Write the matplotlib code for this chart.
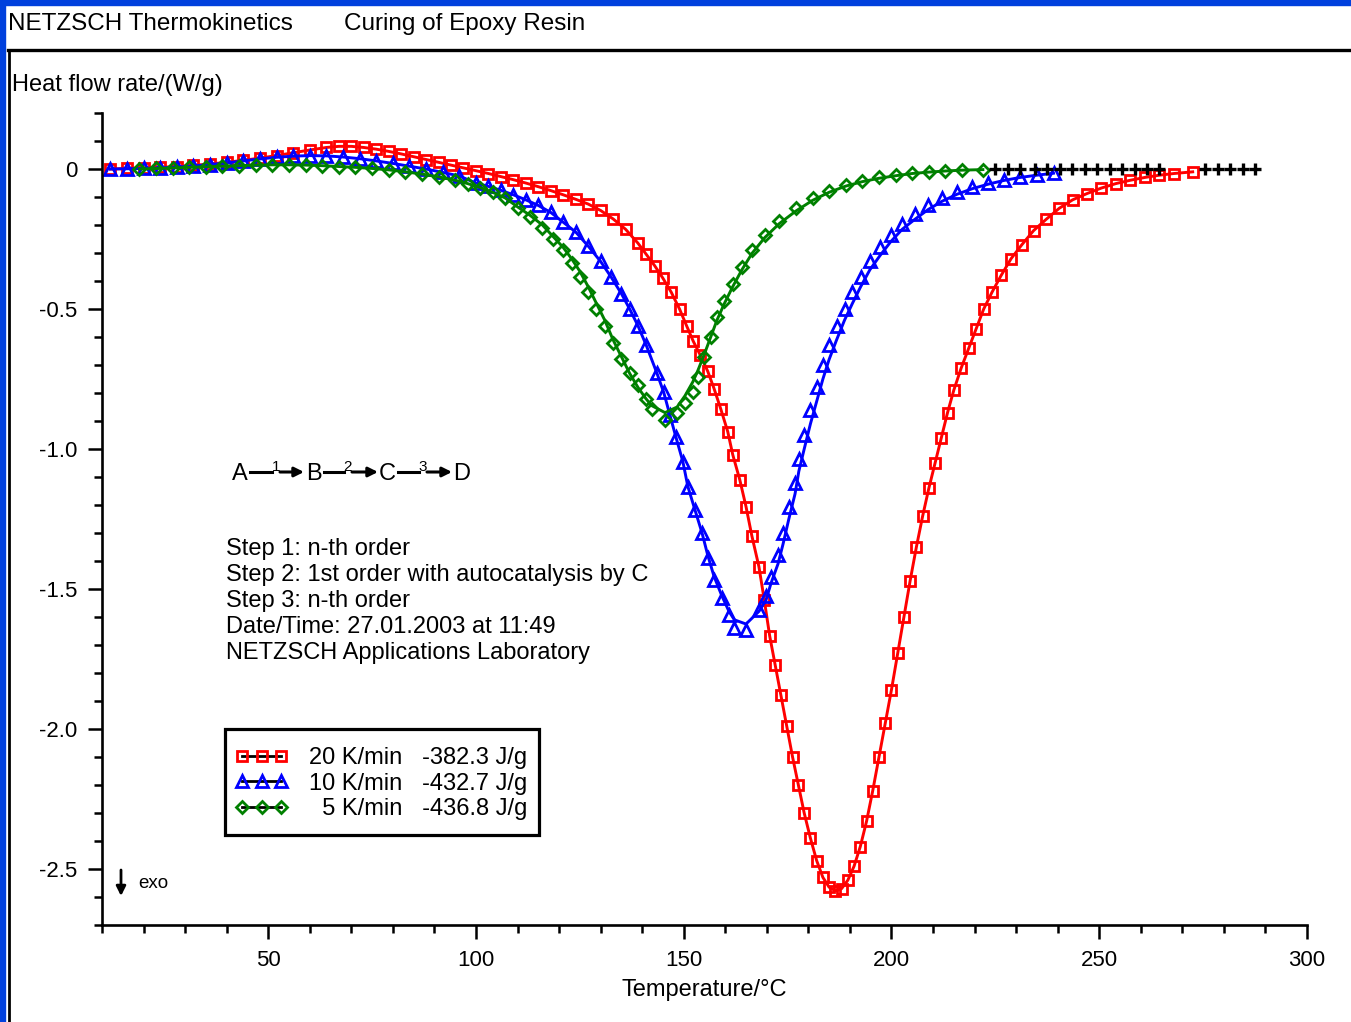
import matplotlib.pyplot as plt
from matplotlib.lines import Line2D
from matplotlib.patches import Rectangle
from matplotlib.ticker import MultipleLocator

plt.rcParams['font.family'] = ['Liberation Sans', 'DejaVu Sans']

# 20 K/min - measured points (temperature in degC, heat flow in W/g)
red_T = [12, 16, 20, 24, 28, 32, 36, 40, 44, 48, 52, 56, 60, 64, 67, 70, 73, 76, 79, 82,
         85, 88, 91, 94, 97, 100, 103, 106, 109, 112, 115, 118, 121, 124, 127, 130, 133,
         136, 139, 141, 143, 145, 147, 149, 150.7, 152.3, 154, 155.8, 157.3, 158.9, 160.6,
         161.8, 163.5, 165, 166.4, 168.1, 169.4, 170.7, 172, 173.4, 174.8, 176.2, 177.6,
         179, 180.5, 182, 183.5, 185, 186.5, 188, 189.5, 191, 192.5, 194, 195.5, 197,
         198.5, 200, 201.5, 203, 204.5, 206, 207.5, 209, 210.5, 212, 213.5, 215, 216.8,
         218.6, 220.4, 222.2, 224.2, 226.4, 228.8, 231.4, 234.2, 237.2, 240.4, 243.6, 247,
         250.5, 254, 257.5, 261, 264.5, 268, 272.5]
red_hf = [0.0, 0.002, 0.004, 0.006, 0.009, 0.013, 0.018, 0.024, 0.031, 0.039, 0.048, 0.058,
          0.068, 0.077, 0.081, 0.081, 0.077, 0.071, 0.063, 0.054, 0.044, 0.034, 0.024,
          0.014, 0.004, -0.006, -0.016, -0.027, -0.038, -0.05, -0.063, -0.077, -0.092,
          -0.108, -0.125, -0.148, -0.178, -0.215, -0.265, -0.305, -0.345, -0.39, -0.44,
          -0.5, -0.56, -0.615, -0.665, -0.723, -0.784, -0.856, -0.938, -1.02, -1.11,
          -1.206, -1.31, -1.42, -1.54, -1.668, -1.77, -1.88, -1.99, -2.1, -2.2, -2.3,
          -2.39, -2.47, -2.53, -2.565, -2.578, -2.57, -2.54, -2.49, -2.42, -2.33, -2.22,
          -2.1, -1.98, -1.86, -1.73, -1.6, -1.47, -1.35, -1.24, -1.14, -1.05, -0.96,
          -0.87, -0.79, -0.71, -0.64, -0.57, -0.5, -0.44, -0.38, -0.32, -0.27, -0.22,
          -0.18, -0.14, -0.11, -0.088, -0.068, -0.052, -0.04, -0.03, -0.022, -0.016,
          -0.01]

# 10 K/min
blue_T = [12, 16, 20, 24, 28, 32, 36, 40, 44, 48, 52, 56, 60, 64, 68, 72, 76, 80, 84, 88,
          92, 96, 100, 103, 106, 109, 112, 115, 118, 121, 124, 127, 130, 132.5, 135, 137,
          139, 141, 143.5, 145.2, 146.7, 148.1, 149.8, 151.0, 152.7, 154.4, 155.8, 157.3,
          159.2, 160.9, 162.2, 165.0, 168.1, 169.8, 171.0, 172.7, 173.9, 175.3, 176.8,
          177.7, 179, 180.5, 182, 183.5, 185, 186.8, 188.7, 190.6, 192.6, 194.8, 197.2,
          199.8, 202.6, 205.6, 208.8, 212.2, 215.8, 219.5, 223.3, 227, 231, 235, 239]
blue_hf = [0.0, 0.001, 0.002, 0.004, 0.007, 0.011, 0.016, 0.022, 0.029, 0.036, 0.042,
           0.046, 0.048, 0.047, 0.043, 0.037, 0.029, 0.02, 0.01, 0.0, -0.012, -0.025,
           -0.05, -0.062, -0.076, -0.092, -0.11, -0.13, -0.155, -0.19, -0.225, -0.275,
           -0.33, -0.385, -0.445, -0.5, -0.56, -0.63, -0.727, -0.798, -0.88, -0.956,
           -1.045, -1.134, -1.217, -1.299, -1.389, -1.468, -1.532, -1.593, -1.64, -1.645,
           -1.575, -1.525, -1.457, -1.378, -1.299, -1.206, -1.12, -1.034, -0.95, -0.86,
           -0.78, -0.7, -0.63, -0.56, -0.5, -0.44, -0.385, -0.33, -0.28, -0.235, -0.195,
           -0.16, -0.13, -0.105, -0.083, -0.065, -0.05, -0.038, -0.028, -0.02, -0.014]
blue_fit = [0.0, 0.001, 0.002, 0.004, 0.007, 0.011, 0.016, 0.022, 0.029, 0.036, 0.042,
            0.046, 0.048, 0.047, 0.043, 0.037, 0.029, 0.02, 0.01, 0.0, -0.012, -0.025,
            -0.05, -0.062, -0.076, -0.092, -0.11, -0.13, -0.155, -0.19, -0.225, -0.275,
            -0.33, -0.385, -0.445, -0.5, -0.56, -0.63, -0.727, -0.798, -0.88, -0.956,
            -1.045, -1.134, -1.217, -1.299, -1.38, -1.455, -1.525, -1.58, -1.61, -1.625,
            -1.58, -1.54, -1.48, -1.41, -1.34, -1.25, -1.16, -1.08, -1.0, -0.91, -0.83,
            -0.75, -0.68, -0.61, -0.54, -0.48, -0.42, -0.36, -0.31, -0.26, -0.215, -0.18,
            -0.145, -0.115, -0.09, -0.07, -0.054, -0.041, -0.03, -0.022, -0.015]

# 5 K/min
green_T = [19, 23, 27, 31, 35, 39, 43, 47, 51, 55, 59, 63, 67, 71, 75, 79, 83, 87, 91, 95,
           98, 101, 104, 107, 110, 113, 116, 118.5, 121, 123, 125, 127, 129, 131, 133, 135,
           137, 139, 140.9, 142.3, 145.5, 148.4, 150.3, 152.2, 153.4, 155, 156.5, 158,
           159.8, 161.8, 164, 166.5, 169.5, 173, 177, 181, 185, 189, 193, 197, 201, 205,
           209, 213, 217, 222]
green_hf = [0.0, 0.002, 0.004, 0.006, 0.008, 0.01, 0.012, 0.014, 0.015, 0.015, 0.014,
            0.012, 0.009, 0.006, 0.002, -0.003, -0.01, -0.018, -0.028, -0.04, -0.052,
            -0.066, -0.083, -0.103, -0.14, -0.17, -0.21, -0.25, -0.29, -0.335, -0.385,
            -0.44, -0.5, -0.56, -0.62, -0.68, -0.73, -0.77, -0.823, -0.856, -0.895, -0.87,
            -0.834, -0.798, -0.741, -0.67, -0.6, -0.53, -0.47, -0.41, -0.35, -0.29, -0.235,
            -0.185, -0.14, -0.105, -0.078, -0.057, -0.042, -0.03, -0.022, -0.015, -0.01,
            -0.006, -0.004, -0.002]
green_fit = [0.0, 0.002, 0.004, 0.006, 0.008, 0.01, 0.012, 0.014, 0.015, 0.015, 0.014,
             0.012, 0.009, 0.006, 0.002, -0.003, -0.01, -0.018, -0.028, -0.04, -0.052,
             -0.066, -0.083, -0.103, -0.135, -0.165, -0.2, -0.24, -0.28, -0.32, -0.365,
             -0.42, -0.48, -0.54, -0.61, -0.67, -0.73, -0.78, -0.82, -0.845, -0.87, -0.85,
             -0.81, -0.76, -0.72, -0.66, -0.6, -0.54, -0.48, -0.42, -0.36, -0.3, -0.245,
             -0.195, -0.15, -0.112, -0.083, -0.061, -0.045, -0.033, -0.024, -0.016, -0.011,
             -0.007, -0.004, -0.002]

# baseline points after the end of each run
tail_T = [225, 228, 231, 234.5, 237.5, 240.5, 243.5, 246.5, 249.5, 252.5, 255.5, 258.5,
          261.5, 264.5, 275.5, 278.5, 281.5, 284.5, 287.5]
tail_hf = [0.0] * len(tail_T)

rates = ['20 K/min', '10 K/min', '  5 K/min']
enthalpies = ['-382.3 J/g', '-432.7 J/g', '-436.8 J/g']

W, H = 1351, 1022
fig = plt.figure(figsize=(W / 100, H / 100), dpi=100)
ax = fig.add_axes([0.0755, 0.0949, 0.8919, 0.7945])


def fx(px):
    return px / W


def fy(py):
    return 1 - py / H


# window decoration
fig.patches.append(Rectangle((0, fy(5)), 1, 5 / H, transform=fig.transFigure,
                             color='#0040dd', zorder=0))
fig.patches.append(Rectangle((0, 0), fx(5), 1, transform=fig.transFigure,
                             color='#0040dd', zorder=0))
fig.add_artist(Line2D([fx(8), 1], [fy(50), fy(50)], transform=fig.transFigure,
                      color='black', lw=2.4))
fig.add_artist(Line2D([fx(9), fx(9)], [0, fy(50)], transform=fig.transFigure,
                      color='black', lw=2.0))

ms = 7
mew = 2.0
lw = 2.1
ax.plot(red_T, red_hf, ls='none', marker='s', ms=ms, mfc='none', mec='red', mew=mew)
ax.plot(red_T, red_hf, color='red', lw=lw)
ax.plot(blue_T, blue_hf, ls='none', marker='^', ms=ms + 1, mfc='none', mec='blue', mew=mew)
ax.plot(blue_T, blue_fit, color='blue', lw=lw)
ax.plot(green_T, green_hf, ls='none', marker='D', ms=ms - 0.5, mfc='none', mec='green', mew=mew)
ax.plot(green_T, green_fit, color='green', lw=lw)
ax.plot(tail_T, tail_hf, ls='none', marker='+', ms=8, color='black', mew=2.4)

ax.set_xlim(10, 300)
ax.set_ylim(-2.7, 0.2)
ax.xaxis.set_minor_locator(MultipleLocator(10))
ax.yaxis.set_minor_locator(MultipleLocator(0.1))
ax.set_yticks([0, -0.5, -1.0, -1.5, -2.0, -2.5])
ax.set_yticklabels(['0', '-0.5', '-1.0', '-1.5', '-2.0', '-2.5'])
ax.set_xticks([50, 100, 150, 200, 250, 300])
ax.tick_params(which='major', length=10, width=1.8, labelsize=16, pad=8, direction='out')
ax.tick_params(which='minor', length=5.5, width=1.8, direction='out')
for s in ['top', 'right']:
    ax.spines[s].set_visible(False)
for s in ['left', 'bottom']:
    ax.spines[s].set_linewidth(1.9)

fs = 17
fig.text(fx(8), fy(24), 'NETZSCH Thermokinetics', fontsize=17.5, va='center', ha='left')
fig.text(fx(344), fy(24), 'Curing of Epoxy Resin', fontsize=17.5, va='center', ha='left')
fig.text(fx(12), fy(85), 'Heat flow rate/(W/g)', fontsize=fs, va='center', ha='left')
fig.text(fx(704), fy(990), 'Temperature/°C', fontsize=fs, va='center', ha='center')

# reaction scheme A -1-> B -2-> C -3-> D
for letter, px in [('A', 232), ('B', 306), ('C', 379), ('D', 453)]:
    fig.text(fx(px), fy(474), letter, fontsize=fs, va='center', ha='left')
for digit, x0, x1, x2 in [('1', 250, 276, 304), ('2', 324, 348, 378),
                          ('3', 398, 423, 452)]:
    fig.add_artist(Line2D([fx(x0), fx(x1 - 4)], [fy(472), fy(472)],
                          transform=fig.transFigure, color='black', lw=2.2))
    fig.text(fx(x1), fy(467), digit, fontsize=11, va='center', ha='center')
    ax.annotate('', xy=(fx(x2), fy(472)), xytext=(fx(x1 + 4), fy(472)),
                xycoords='figure fraction',
                arrowprops=dict(arrowstyle='-|>', color='black', lw=2.2,
                                mutation_scale=14, shrinkA=0, shrinkB=0))

fig.text(fx(226), fy(538), 'Step 1: n-th order\nStep 2: 1st order with autocatalysis by C\n'
         'Step 3: n-th order\nDate/Time: 27.01.2003 at 11:49\nNETZSCH Applications Laboratory',
         fontsize=fs, va='top', ha='left', linespacing=1.24)

# exo arrow
ax.annotate('', xy=(fx(121), fy(896)), xytext=(fx(121), fy(870)),
            xycoords='figure fraction',
            arrowprops=dict(arrowstyle='-|>', color='black', lw=2.0, mutation_scale=14,
                            shrinkA=0, shrinkB=0))
fig.text(fx(138), fy(883), 'exo', fontsize=13.5, va='center', ha='left')

# legend with a plain square frame
fig.patches.append(Rectangle((fx(225), fy(835)), (539 - 225) / W, (835 - 729) / H,
                             transform=fig.transFigure, fill=False, edgecolor='black',
                             lw=2.3, zorder=5))
handles = [
    Line2D([], [], color='black', lw=2.0, marker='s', ms=ms, mfc='none', mec='red', mew=mew),
    Line2D([], [], color='black', lw=2.0, marker='^', ms=ms + 1, mfc='none', mec='blue', mew=mew),
    Line2D([], [], color='black', lw=2.0, marker='D', ms=ms - 0.5, mfc='none', mec='green', mew=mew),
]
labels = [r + '   ' + e for r, e in zip(rates, enthalpies)]
leg = ax.legend(handles, labels, loc='upper left', bbox_to_anchor=(fx(235), fy(747)),
                bbox_transform=fig.transFigure, borderaxespad=0, numpoints=3,
                fontsize=fs, handlelength=2.25, handletextpad=0.9, labelspacing=0.15,
                borderpad=0, frameon=False)

fig.savefig('out.png', dpi=100)
